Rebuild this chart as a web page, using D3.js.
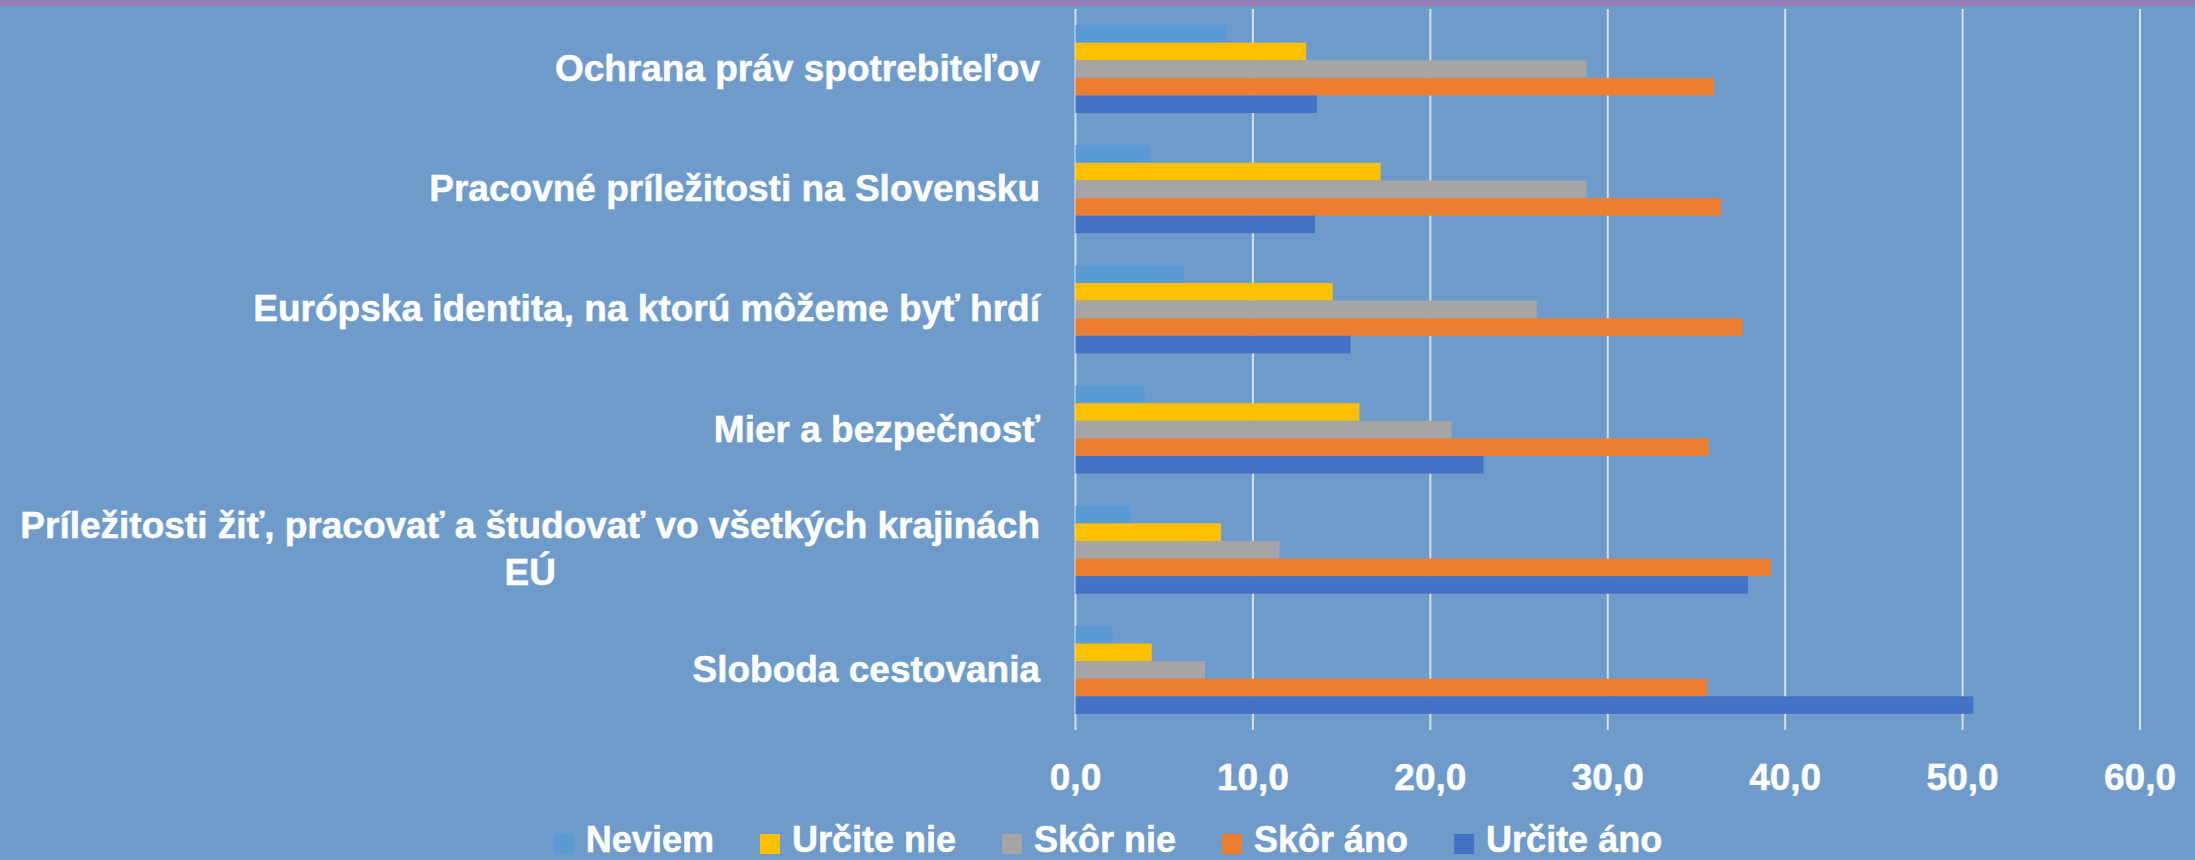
<!DOCTYPE html>
<html>
<head>
<meta charset="utf-8">
<title>Hodnoty EÚ</title>
<script src="https://d3js.org/d3.v7.min.js"></script>
<style>
    body { margin: 0; background: #6f9bcb; }
    svg { display: block; }
    text { font-family: "Liberation Sans", Arial, sans-serif; font-weight: bold; fill: #fff;
           stroke: #fff; stroke-width: 0.5; }
</style>
</head>
<body>
<script>
    // categories top to bottom (second line after "\n")
    var categories = [
        "Ochrana práv spotrebiteľov",
        "Pracovné príležitosti na Slovensku",
        "Európska identita, na ktorú môžeme byť hrdí",
        "Mier a bezpečnosť",
        "Príležitosti žiť, pracovať a študovať vo všetkých krajinách\nEÚ",
        "Sloboda cestovania"
    ];
    var seriesNames = ["Neviem", "Určite nie", "Skôr nie", "Skôr áno", "Určite áno"];
    var seriesColors = ["#5b9bd5", "#ffc000", "#a5a5a5", "#ed7d31", "#4472c4"];

    // values per category, same order as seriesNames
    var neviem    = [8.5, 4.2, 6.1, 3.9, 3.1, 2.1];
    var urciteNie = [13.0, 17.2, 14.5, 16.0, 8.2, 4.3];
    var skorNie   = [28.8, 28.8, 26.0, 21.2, 11.5, 7.3];
    var skorAno   = [36.0, 36.4, 37.6, 35.7, 39.2, 35.6];
    var urciteAno = [13.6, 13.5, 15.5, 23.0, 37.9, 50.6];
    var tickValues = [0, 10, 20, 30, 40, 50, 60];

    var W = 2195, H = 860;
    var svg = d3.select("body").append("svg").attr("width", W).attr("height", H);

    svg.append("rect").attr("width", W).attr("height", H).attr("fill", "#6f9bcb");
    svg.append("rect").attr("width", W).attr("height", 6).attr("fill", "#937db7");

    var allSeries = [neviem, urciteNie, skorNie, skorAno, urciteAno];
    var rows = categories.map(function (c, i) {
        return { cat: c, vals: allSeries.map(function (s) { return s[i]; }) };
    });

    var x = d3.scaleLinear().domain([0, 60]).range([1075.5, 2140]);
    var y = d3.scaleBand().domain(categories).range([9, 730])
        .paddingInner(0.268).paddingOuter(0.134);
    var ys = d3.scaleBand().domain(seriesNames).range([0, y.bandwidth()]);

    // gridlines
    svg.append("g").selectAll("line")
        .data(tickValues)
        .join("line")
        .attr("x1", d => x(d)).attr("x2", d => x(d))
        .attr("y1", 9).attr("y2", 730)
        .attr("stroke", "#d9dde3").attr("stroke-width", 2);

    // bars
    var groups = svg.append("g").selectAll("g")
        .data(rows)
        .join("g")
        .attr("transform", d => "translate(0," + y(d.cat) + ")");

    groups.selectAll("rect")
        .data(d => d.vals.map((v, j) => ({ name: seriesNames[j], v: v, j: j })))
        .join("rect")
        .attr("x", x(0))
        .attr("y", d => ys(d.name))
        .attr("width", d => x(d.v) - x(0))
        .attr("height", ys.bandwidth())
        .attr("fill", d => seriesColors[d.j]);

    // category labels
    var labelRight = 1040;
    svg.append("g").selectAll("text")
        .data(categories)
        .join("text")
        .attr("font-size", 37)
        .each(function (d) {
            var t = d3.select(this);
            var lines = d.split("\n");
            var cy = y(d) + y.bandwidth() / 2;
            var lh = 47;
            var y0 = cy - (lines.length - 1) * lh / 2 + 12;
            if (lines.length === 1) {
                t.attr("text-anchor", "end").attr("x", labelRight).attr("y", y0).text(d);
            } else {
                var spans = t.attr("text-anchor", "middle").selectAll("tspan")
                    .data(lines).join("tspan")
                    .attr("y", (l, k) => y0 + k * lh)
                    .text(l => l);
                var maxW = 0;
                spans.each(function () { maxW = Math.max(maxW, this.getComputedTextLength()); });
                spans.attr("x", labelRight - maxW / 2);
            }
        });

    // x axis labels
    svg.append("g").selectAll("text")
        .data(tickValues)
        .join("text")
        .attr("font-size", 37)
        .attr("text-anchor", "middle")
        .attr("x", d => x(d))
        .attr("y", 790)
        .text(d => d3.format(".1f")(d).replace(".", ","));

    // legend
    var legend = svg.append("g");
    var lx = 0;
    seriesNames.forEach(function (name, i) {
        var item = legend.append("g").attr("transform", "translate(" + lx + ",0)");
        item.append("rect").attr("x", 0).attr("y", 834).attr("width", 20).attr("height", 20)
            .attr("fill", seriesColors[i]);
        var t = item.append("text").attr("x", 32).attr("y", 852).attr("font-size", 36).text(name);
        lx += 32 + t.node().getComputedTextLength() + 46;
    });
    var legendW = lx - 46;
    legend.attr("transform", "translate(" + (1108 - legendW / 2) + ",0)");
</script>
</body>
</html>
